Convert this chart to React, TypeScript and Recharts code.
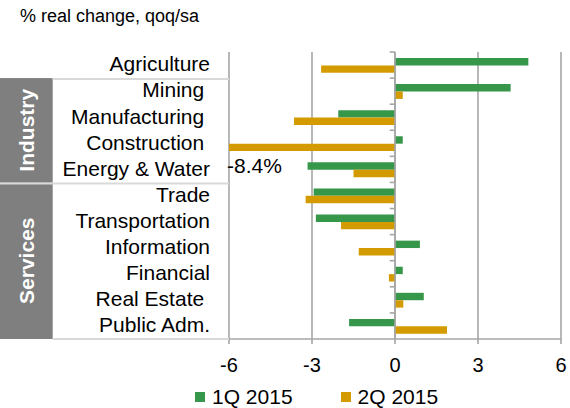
import React from 'react';
import {
  BarChart, Bar, XAxis, YAxis, CartesianGrid, ReferenceLine, ReferenceDot, Legend,
} from 'recharts';

const categories = [
  'Agriculture', 'Mining ', 'Manufacturing ', 'Construction ', 'Energy & Water',
  'Trade', 'Transportation', 'Information', 'Financial', 'Real Estate ', 'Public Adm.',
];
const q1Values = [4.82, 4.18, -2.05, 0.28, -3.16, -2.94, -2.86, 0.9, 0.28, 1.04, -1.66];
const q2Values = [-2.67, 0.28, -3.65, -8.4, -1.5, -3.23, -1.95, -1.31, -0.22, 0.3, 1.88];
const seriesNames = ['1Q 2015', '2Q 2015'];
const xTicks = [-6, -3, 0, 3, 6];
const xDomain: [number, number] = [-6, 6];
const groups = [
  { label: 'Industry', from: 'Mining ', to: 'Energy & Water' },
  { label: 'Services', from: 'Trade', to: 'Public Adm.' },
];
const titleText = '% real change, qoq/sa';

const data = categories.map((c, i) => ({ name: c, q1: q1Values[i], q2: q2Values[i] }));

const W = 570;
const H = 408;
const MARGIN = { top: 52, right: 9, bottom: 39, left: 0 };
const X_AXIS_H = 30;
const Y_AXIS_W = 229;
const BAND = (H - MARGIN.top - MARGIN.bottom - X_AXIS_H) / categories.length;
const FONT = '"Liberation Sans", Arial, sans-serif';
const GREEN = '#36964a';
const ORANGE = '#d49b00';
const GRID = '#a6a6a6';
const SEP = '#d9d9d9';
const BOX = '#7f7f7f';
const BOX_W = 52.7;

function CategoryTick(props: any) {
  const { x, y, payload } = props;
  const label: string = payload.value;
  const top = y - BAND / 2;
  const parts: React.ReactNode[] = [];
  groups.forEach((g, gi) => {
    const fromIdx = categories.indexOf(g.from);
    const toIdx = categories.indexOf(g.to);
    if (label === g.from) {
      const count = toIdx - fromIdx + 1;
      const h = count * BAND;
      parts.push(
        <rect key={'box' + gi} x={0} y={top} width={BOX_W} height={h} fill={BOX} />,
      );
      parts.push(
        <text
          key={'gl' + gi}
          x={BOX_W / 2}
          y={top + h / 2}
          transform={`rotate(-90 ${BOX_W / 2} ${top + h / 2})`}
          textAnchor="middle"
          dy="0.36em"
          fill="#ffffff"
          fontWeight="bold"
          fontSize={21}
          fontFamily={FONT}
        >
          {g.label}
        </text>,
      );
      parts.push(
        <line key={'sep' + gi} x1={gi === 0 ? BOX_W : 0} x2={Y_AXIS_W} y1={top + 1} y2={top + 1} stroke={SEP} strokeWidth={2} />,
      );
    }
    if (label === g.to && gi === groups.length - 1) {
      parts.push(
        <line key={'sepb' + gi} x1={BOX_W} x2={Y_AXIS_W} y1={y + BAND / 2} y2={y + BAND / 2} stroke={SEP} strokeWidth={2} />,
      );
    }
  });
  parts.push(
    <text
      key="t"
      x={x}
      y={y}
      dy="0.3em"
      textAnchor="end"
      fill="#000"
      fontSize={21}
      fontFamily={FONT}
      style={{ whiteSpace: 'pre' }}
    >
      {label}
    </text>,
  );
  return <g>{parts}</g>;
}

function OverflowLabel(props: any) {
  const { viewBox, value } = props;
  if (!viewBox) return null;
  const cx = viewBox.x + viewBox.width / 2;
  const cy = viewBox.y + viewBox.height / 2;
  return (
    <text x={cx - 2} y={cy + 30} fontSize={21} fontFamily={FONT} fill="#000" textAnchor="start">
      {value}
    </text>
  );
}

function LegendContent(props: any) {
  const payload = props.payload || [];
  return (
    <div style={{ display: 'flex', alignItems: 'center', fontFamily: FONT, fontSize: 21, lineHeight: '22px', height: 22 }}>
      {payload.map((p: any, i: number) => (
        <div key={i} style={{ display: 'flex', alignItems: 'center', marginRight: i === 0 ? 48 : 0 }}>
          <div style={{ width: 10, height: 10, background: p.color, marginRight: 7 }} />
          <span style={{ color: '#000', whiteSpace: 'nowrap' }}>{p.value}</span>
        </div>
      ))}
    </div>
  );
}

const overflow = data.filter((d) => d.q2 < xDomain[0]);

export default function App() {
  return (
    <div style={{ position: 'absolute', left: 0, top: 0, width: W, height: H, background: '#fff' }}>
      <div style={{ position: 'absolute', left: 20, top: 6, fontFamily: FONT, fontSize: 18, color: '#000', whiteSpace: 'nowrap', zIndex: 2 }}>
        {titleText}
      </div>
      <BarChart
        width={W}
        height={H}
        data={data}
        layout="vertical"
        margin={MARGIN}
        barGap={0}
        barSize={7.4}
      >
        <CartesianGrid horizontal={false} stroke={GRID} strokeWidth={1.6} />
        <XAxis
          type="number"
          domain={xDomain}
          ticks={xTicks}
          allowDataOverflow
          height={X_AXIS_H}
          axisLine={{ stroke: GRID, strokeWidth: 1.6 }}
          tickLine={{ stroke: GRID, strokeWidth: 1.6 }}
          tickSize={5}
          tickMargin={14}
          tick={{ fill: '#000', fontSize: 20, fontFamily: FONT }}
          interval={0}
        />
        <YAxis
          type="category"
          dataKey="name"
          width={Y_AXIS_W}
          axisLine={false}
          tickLine={false}
          tickSize={0}
          tickMargin={19}
          interval={0}
          tick={<CategoryTick />}
        />
        <ReferenceLine x={0} stroke={GRID} strokeWidth={1.6} />
        {categories.map((c) => (
          <ReferenceLine
            key={'zt' + c}
            segment={[{ x: -0.19, y: c }, { x: 0, y: c }]}
            position="start"
            stroke={GRID}
            strokeWidth={1.6}
          />
        ))}
        <Bar dataKey="q1" name={seriesNames[0]} fill={GREEN} isAnimationActive={false} />
        <Bar dataKey="q2" name={seriesNames[1]} fill={ORANGE} isAnimationActive={false} />
        {overflow.map((d) => (
          <ReferenceDot
            key={'of' + d.name}
            x={xDomain[0]}
            y={d.name}
            r={0}
            fill="none"
            stroke="none"
            label={<OverflowLabel value={`${d.q2.toFixed(1)}%`} />}
          />
        ))}
        <Legend
          verticalAlign="middle"
          align="center"
          layout="horizontal"
          wrapperStyle={{ left: 195, top: 386, width: 320, height: 22 }}
          content={<LegendContent />}
        />
      </BarChart>
    </div>
  );
}
